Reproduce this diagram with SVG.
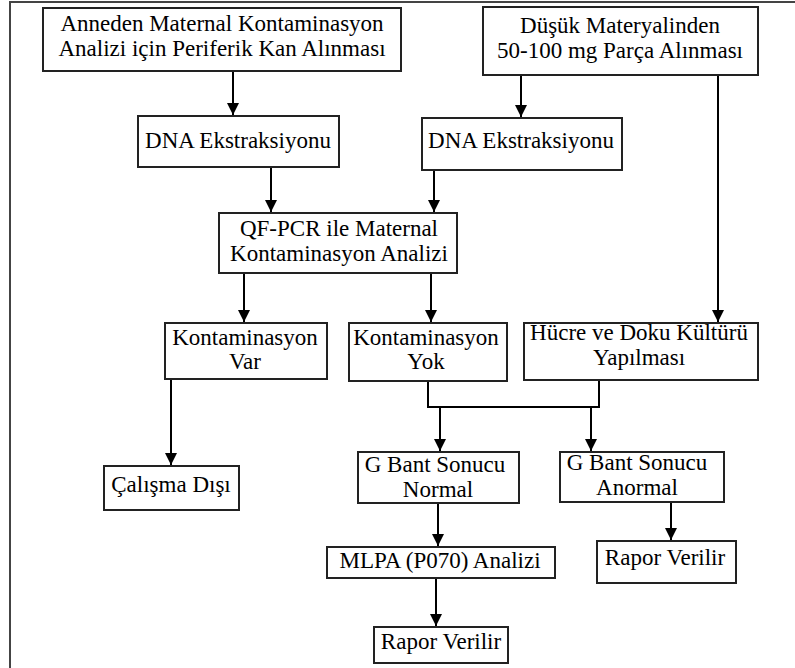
<svg xmlns="http://www.w3.org/2000/svg" width="795" height="668" viewBox="0 0 795 668">
<defs>
<marker id="ah" markerUnits="userSpaceOnUse" markerWidth="14" markerHeight="14" viewBox="0 0 14 14" refX="12" refY="7" orient="auto">
<path d="M0,1 L12,7 L0,13 Z" fill="#000"/>
</marker>
<style>
.box{fill:#fff;stroke:#222;stroke-width:2}
.t{font-family:"Liberation Serif","Times New Roman",serif;font-size:23px;fill:#000;text-anchor:middle}
.c{fill:none;stroke:#000;stroke-width:2}
.a{marker-end:url(#ah)}
</style>
</defs>
<rect width="795" height="668" fill="#fff"/>
<path d="M10,668 V2 H795" fill="none" stroke="#444" stroke-width="2"/>
<g id="connectors">
<line class="c a" x1="233" y1="71" x2="233" y2="115"/>
<line class="c a" x1="521" y1="75" x2="521" y2="117"/>
<line class="c a" x1="718" y1="75" x2="718" y2="322"/>
<line class="c a" x1="271" y1="167" x2="271" y2="212"/>
<line class="c a" x1="434" y1="170" x2="434" y2="212"/>
<line class="c a" x1="244" y1="273" x2="244" y2="322"/>
<line class="c a" x1="431" y1="273" x2="431" y2="322"/>
<line class="c a" x1="171" y1="379" x2="171" y2="465"/>
<path class="c" d="M428,381 V407 H599 V380"/>
<line class="c a" x1="440" y1="407" x2="440" y2="451"/>
<line class="c a" x1="591" y1="407" x2="591" y2="451"/>
<line class="c a" x1="438" y1="503" x2="438" y2="546"/>
<line class="c a" x1="436" y1="578" x2="436" y2="626"/>
<line class="c a" x1="671" y1="502" x2="671" y2="540"/>
</g>
<g id="n1"><rect class="box" x="43" y="8" width="358" height="63"/>
<text class="t" x="222" y="31">Anneden Maternal Kontaminasyon</text>
<text class="t" x="222" y="56">Analizi için Periferik Kan Alınması</text></g>
<g id="n2"><rect class="box" x="483" y="7" width="275" height="68"/>
<text class="t" x="620" y="33">Düşük Materyalinden</text>
<text class="t" x="620" y="58">50-100 mg Parça Alınması</text></g>
<g id="n3"><rect class="box" x="138" y="116" width="201" height="51"/>
<text class="t" x="238" y="148">DNA Ekstraksiyonu</text></g>
<g id="n4"><rect class="box" x="422" y="118" width="200" height="52"/>
<text class="t" x="521" y="148">DNA Ekstraksiyonu</text></g>
<g id="n5"><rect class="box" x="219" y="213" width="238" height="60"/>
<text class="t" x="339" y="236">QF-PCR ile Maternal</text>
<text class="t" x="339" y="261">Kontaminasyon Analizi</text></g>
<g id="n6"><rect class="box" x="165" y="323" width="162" height="56"/>
<text class="t" x="245" y="345">Kontaminasyon</text>
<text class="t" x="245" y="369">Var</text></g>
<g id="n7"><rect class="box" x="349" y="323" width="158" height="58"/>
<text class="t" x="426" y="345">Kontaminasyon</text>
<text class="t" x="426" y="369">Yok</text></g>
<g id="n8"><rect class="box" x="524" y="323" width="234" height="57"/>
<text class="t" x="639" y="340">Hücre ve Doku Kültürü</text>
<text class="t" x="639" y="365">Yapılması</text></g>
<g id="n9"><rect class="box" x="104" y="466" width="135" height="44"/>
<text class="t" x="171" y="492">Çalışma Dışı</text></g>
<g id="n10"><rect class="box" x="358" y="452" width="161" height="51"/>
<text class="t" x="435" y="472">G Bant Sonucu</text>
<text class="t" x="438" y="497">Normal</text></g>
<g id="n11"><rect class="box" x="560" y="452" width="164" height="50"/>
<text class="t" x="637" y="470">G Bant Sonucu</text>
<text class="t" x="637" y="495">Anormal</text></g>
<g id="n12"><rect class="box" x="327" y="547" width="228" height="31"/>
<text class="t" x="440" y="568">MLPA (P070) Analizi</text></g>
<g id="n13"><rect class="box" x="374" y="627" width="134" height="36"/>
<text class="t" x="441" y="649">Rapor Verilir</text></g>
<g id="n14"><rect class="box" x="597" y="541" width="139" height="42"/>
<text class="t" x="665" y="565">Rapor Verilir</text></g>
</svg>
